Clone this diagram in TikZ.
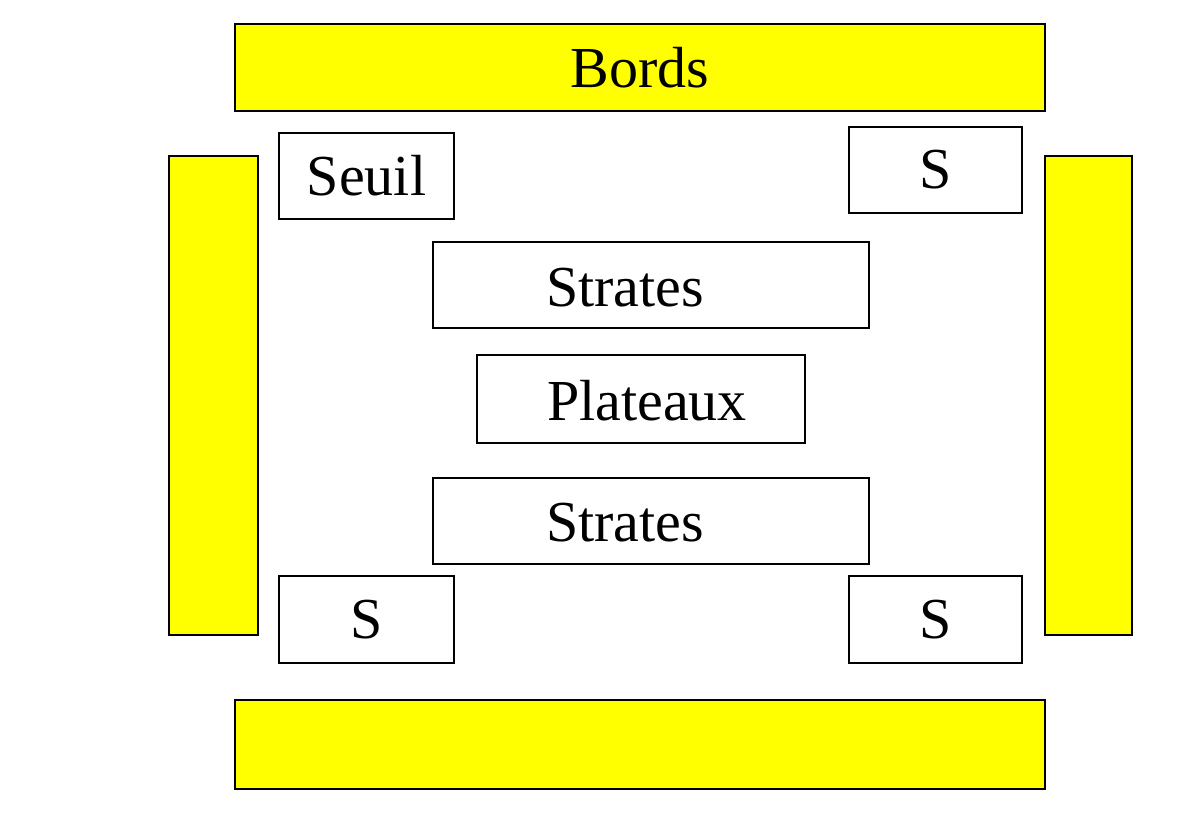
\documentclass[tikz,border=0pt]{standalone}
\usepackage{fontspec}
\setmainfont{Liberation Serif}
\usepackage{xcolor}
\definecolor{jaune}{RGB}{255,255,0}
\usetikzlibrary{positioning}

\begin{document}
\begin{tikzpicture} [box/.style = {draw,
					    rectangle,
					    line width = 0.6pt,
					    inner sep = 0pt,
					    font = \fontsize{16.5}{20}\selectfont},
					 bar/.style = {box, fill=jaune},
					 txt/.style = {font = \fontsize{16.5}{20}\selectfont}]
					\useasboundingbox (0,0) rectangle (11.97,-8.35);
					% bords
					\node (bords) at (6.40,-0.675) [bar, minimum width=8.10cm, minimum height=0.87cm] {Bords};
					\node (gauche) at (2.135,-3.955) [bar, minimum width=0.89cm, minimum height=4.79cm] {};
					\node (droite) at (10.885,-3.955) [bar, minimum width=0.87cm, minimum height=4.79cm] {};
					\node (bas) at (6.40,-7.445) [bar, minimum width=8.10cm, minimum height=0.89cm] {};
					% seuils
					\node (seuil) at (3.665,-1.76) [box, minimum width=1.75cm, minimum height=0.86cm] {Seuil};
					\node (s1) at (9.355,-1.70) [box, minimum width=1.73cm, minimum height=0.86cm] {S};
					\node (s2) at (3.665,-6.195) [box, minimum width=1.75cm, minimum height=0.87cm] {S};
					\node (s3) at (9.355,-6.195) [box, minimum width=1.73cm, minimum height=0.87cm] {S};
					% strates et plateaux
					\node (strates1) at (6.51,-2.85) [box, minimum width=4.36cm, minimum height=0.86cm] {};
					\node at (6.25,-2.88) [txt] {Strates};
					\node (plateaux) at (6.41,-3.99) [box, minimum width=3.28cm, minimum height=0.88cm] {};
					\node at (6.47,-4.01) [txt] {Plateaux};
					\node (strates2) at (6.51,-5.21) [box, minimum width=4.36cm, minimum height=0.86cm] {};
					\node at (6.25,-5.23) [txt] {Strates};
				\end{tikzpicture}
\end{document}
